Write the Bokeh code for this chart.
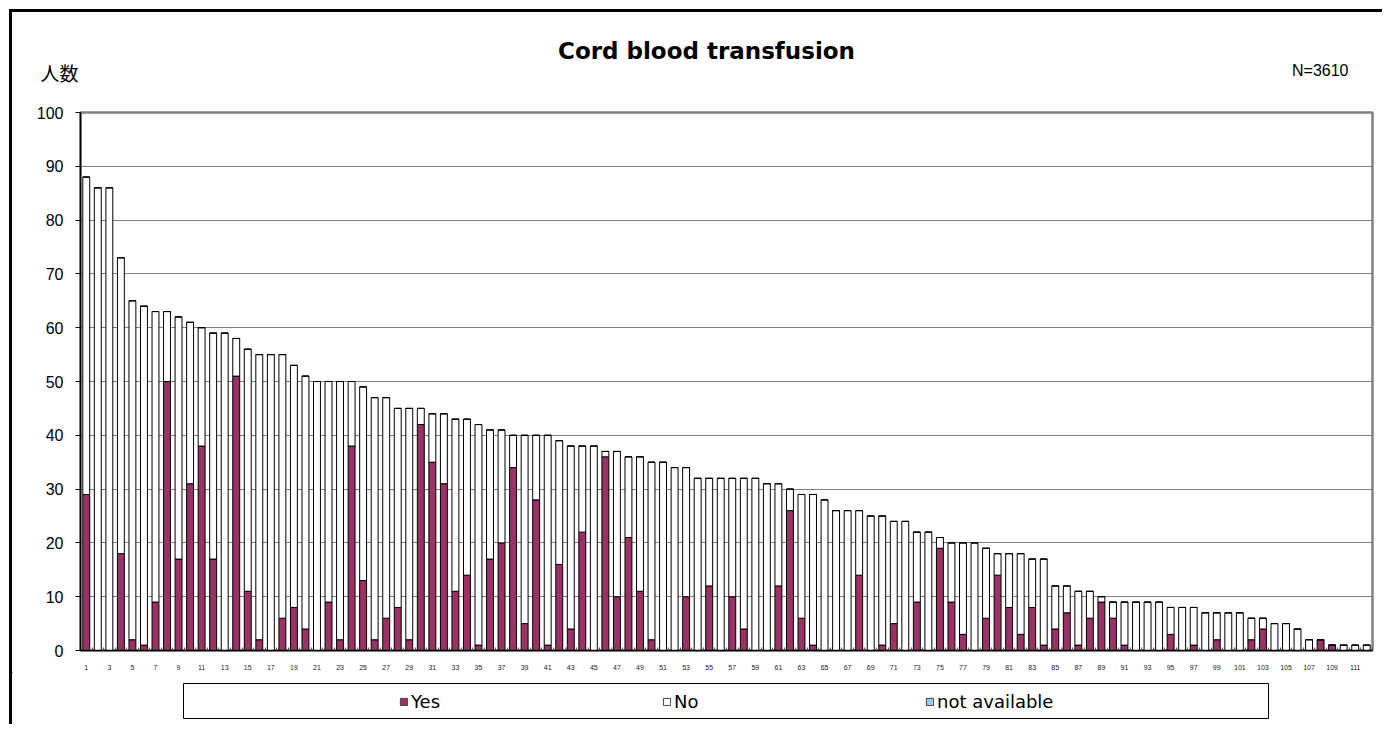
from bokeh.plotting import figure
from bokeh.layouts import column
from bokeh.models import (Range1d, FixedTicker, Legend, LegendItem, ColumnDataSource)
from bokeh.core.properties import value
from bokeh.embed import file_html
from bokeh.resources import INLINE

# ---------------- data ----------------
categories = list(range(1, 113))
x_tick_labels = {i: str(i) for i in range(1, 113, 2)}
series_names = ["Yes", "No", "not available"]

yes_vals = [29, 0, 0, 18, 2, 1, 9, 50, 17, 31,
            38, 17, 0, 51, 11, 2, 0, 6, 8, 4,
            0, 9, 2, 38, 13, 2, 6, 8, 2, 42,
            35, 31, 11, 14, 1, 17, 20, 34, 5, 28,
            1, 16, 4, 22, 0, 36, 10, 21, 11, 2,
            0, 0, 10, 0, 12, 0, 10, 4, 0, 0,
            12, 26, 6, 1, 0, 0, 0, 14, 0, 1,
            5, 0, 9, 0, 19, 9, 3, 0, 6, 14,
            8, 3, 8, 1, 4, 7, 1, 6, 9, 6,
            1, 0, 0, 0, 3, 0, 1, 0, 2, 0,
            0, 2, 4, 0, 0, 0, 0, 2, 1, 0,
            0, 0]

no_vals = [59, 86, 86, 55, 63, 63, 54, 13, 45, 30,
           22, 42, 59, 7, 45, 53, 55, 49, 45, 47,
           50, 41, 48, 12, 36, 45, 41, 37, 43, 3,
           9, 13, 32, 29, 41, 24, 21, 6, 35, 12,
           39, 23, 34, 16, 38, 1, 27, 15, 25, 33,
           35, 34, 24, 32, 20, 32, 22, 28, 32, 31,
           19, 4, 23, 28, 28, 26, 26, 12, 25, 24,
           19, 24, 13, 22, 2, 11, 17, 20, 13, 4,
           10, 15, 9, 16, 8, 5, 10, 5, 1, 3,
           8, 9, 9, 9, 5, 8, 7, 7, 5, 7,
           7, 4, 2, 5, 5, 4, 2, 0, 0, 1,
           1, 1]

na_vals = [0] * 112

y_ticks = list(range(0, 101, 10))
title_text = "Cord blood transfusion"
y_unit_text = "人数"
n_text = "N=3610"

colors = ["#993366", "#FFFFFF", "#99CCFF"]

PAGE_X0, PAGE_X1 = 12, 1382


def blank_fig(height, y0, y1):
    f = figure(width=PAGE_X1 - PAGE_X0, height=height,
               x_range=Range1d(PAGE_X0, PAGE_X1), y_range=Range1d(y1, y0),
               output_backend="svg", toolbar_location=None,
               x_axis_location=None, y_axis_location=None,
               min_border=0, min_border_left=0, min_border_right=0,
               min_border_top=0, min_border_bottom=0, frame_align=False)
    f.title.visible = False
    f.grid.visible = False
    f.outline_line_color = None
    f.background_fill_color = "white"
    f.border_fill_color = "white"
    return f


# ---------------- header ----------------
head = blank_fig(90, 12, 102)
head.text(x=[706], y=[50], text=[title_text], text_align="center", text_baseline="middle",
          text_font=value("DejaVu Sans"), text_font_style="bold",
          text_font_size=value("23px"), text_color="black")
head.text(x=[40], y=[72], text=[y_unit_text], text_align="left", text_baseline="middle",
          text_font=value("Noto Sans CJK JP"), text_font_size=value("19px"), text_color="black")
head.text(x=[1348], y=[70], text=[n_text], text_align="right", text_baseline="middle",
          text_font=value("Liberation Sans"), text_font_size=value("16px"), text_color="black")

# ---------------- main chart ----------------
src = ColumnDataSource(dict(x=categories, Yes=yes_vals, No=no_vals, NA=na_vals))

p = figure(width=PAGE_X1 - PAGE_X0, height=570,
           x_range=Range1d(0.5, 112.5), y_range=Range1d(0, 100),
           output_backend="svg", toolbar_location=None,
           min_border_left=68, min_border_right=10,
           min_border_top=10, min_border_bottom=22, frame_align=False)
p.title.visible = False
p.background_fill_color = "white"
p.border_fill_color = "white"
p.outline_line_color = "#808080"
p.outline_line_width = 2.5

p.vbar_stack(["Yes", "No", "NA"], x="x", width=0.6, source=src,
             fill_color=colors, line_color="black", line_width=1)

p.xgrid.visible = False
p.ygrid.grid_line_color = "#808080"
p.ygrid.grid_line_width = 1
p.ygrid.ticker = FixedTicker(ticks=y_ticks)

p.yaxis.ticker = FixedTicker(ticks=y_ticks)
p.yaxis.axis_line_color = "black"
p.yaxis.axis_line_width = 1.5
p.yaxis.major_tick_line_color = "black"
p.yaxis.major_tick_in = 0
p.yaxis.major_tick_out = 5
p.yaxis.minor_tick_line_color = None
p.yaxis.major_label_standoff = 12
p.yaxis.major_label_text_font = "Liberation Sans"
p.yaxis.major_label_text_font_size = "16px"
p.yaxis.major_label_text_color = "black"

p.xaxis.ticker = FixedTicker(ticks=list(x_tick_labels.keys()),
                             minor_ticks=[i + 0.5 for i in range(0, 113)])
p.xaxis.major_label_overrides = x_tick_labels
p.xaxis.axis_line_color = "black"
p.xaxis.axis_line_width = 1.5
p.xaxis.major_tick_line_color = None
p.xaxis.minor_tick_line_color = "#555555"
p.xaxis.minor_tick_in = 3
p.xaxis.minor_tick_out = 0
p.xaxis.major_label_standoff = 8
p.xaxis.major_label_text_font = "Liberation Sans"
p.xaxis.major_label_text_font_size = "7px"
p.xaxis.major_label_text_color = "#222222"

# ---------------- legend strip ----------------
leg = blank_fig(52, 672, 724)
leg.quad(left=[183], right=[1268], top=[683], bottom=[718],
         fill_color="white", line_color="black", line_width=1)
# hidden one-point renderers (outside the visible range) that carry the legend swatches
dummies = [leg.vbar(x=[-1000], top=[0], bottom=[1], width=1,
                    fill_color=c, line_color="#444444", line_width=1)
           for c in colors]
legend = Legend(items=[LegendItem(label=n, renderers=[r]) for n, r in zip(series_names, dummies)],
                orientation="horizontal", location=(387, 12),
                border_line_alpha=0, background_fill_alpha=0,
                padding=0, margin=0, spacing=10,
                glyph_width=9, glyph_height=9, label_standoff=3, label_width=241,
                label_text_font="DejaVu Sans", label_text_font_size="18px",
                label_text_color="black")
leg.add_layout(legend)

layout = column(head, p, leg, spacing=0, margin=(9, 0, 0, 9),
                styles={"border-left": "3px solid black", "border-top": "3px solid black"})

open("out.html", "w").write(file_html(layout, INLINE))
